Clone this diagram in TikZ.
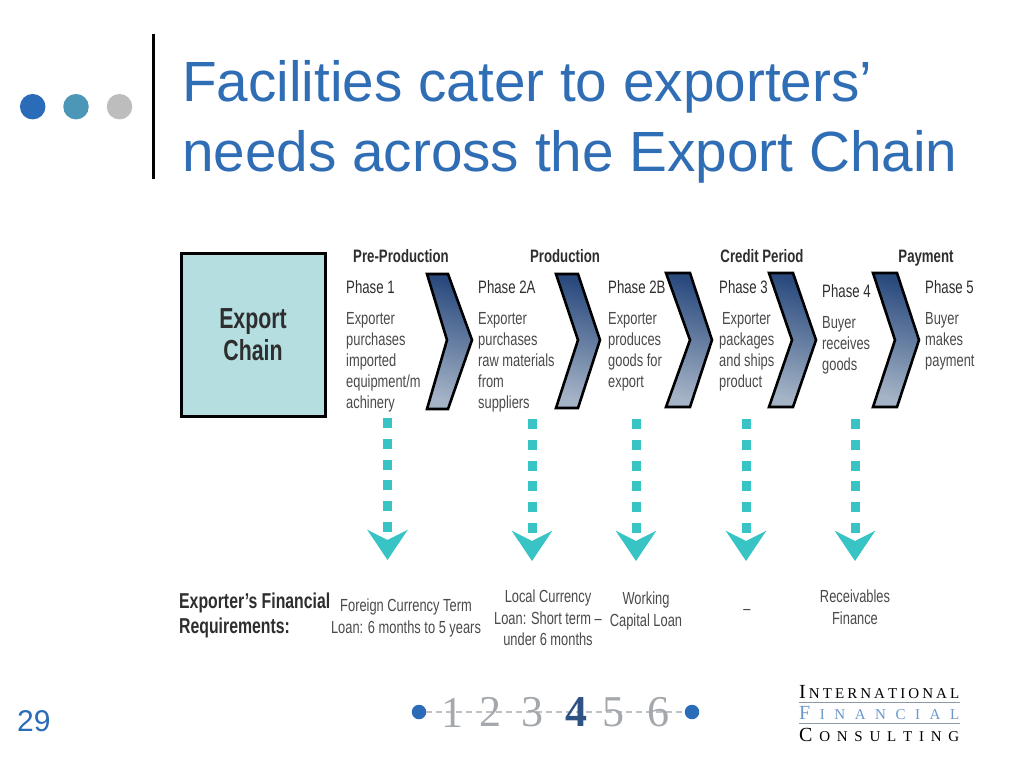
\documentclass[tikz,border=0pt]{standalone}
\usepackage{fontspec}
\setmainfont{Liberation Sans}
\newfontfamily\narrow[FakeStretch=0.735]{Liberation Sans}
\newfontfamily\logofont{Liberation Serif}
\usetikzlibrary{arrows.meta}
\definecolor{titleblue}{HTML}{2F6DB5}
\definecolor{dotblue}{HTML}{2B6CB8}
\definecolor{dotteal}{HTML}{4C97B8}
\definecolor{dotgray}{HTML}{BDBDBD}
\definecolor{boxfill}{HTML}{B5DEE0}
\definecolor{arrowteal}{HTML}{38C4C4}
\definecolor{bodygray}{HTML}{4A4A4A}
\definecolor{headdark}{HTML}{2E2E2E}
\definecolor{chevtop}{HTML}{2A4A7E}
\definecolor{chevmid}{HTML}{7189A8}
\definecolor{chevbot}{HTML}{A4B3C6}
\definecolor{numgray}{HTML}{A4A8AC}
\definecolor{numblue}{HTML}{2F5285}
\definecolor{logoline}{HTML}{8C9AAC}
\tikzset{
  titletext/.style={anchor=base west,inner sep=0,font=\fontsize{56.7}{56.7}\selectfont,text=titleblue},
  dotmark/.style={circle,minimum size=25.5pt,inner sep=0},
  head/.style={anchor=base,inner sep=0,font=\narrow\bfseries\fontsize{18}{18}\selectfont,text=headdark},
  phase/.style={anchor=base west,inner sep=0,font=\narrow\fontsize{18}{18}\selectfont,text=headdark},
  body/.style={anchor=north west,inner sep=0,align=left,font=\narrow\fontsize{17.5}{21}\selectfont,text=bodygray},
  req/.style={anchor=north,inner sep=0,align=center,font=\narrow\fontsize{17.5}{21.5}\selectfont,text=bodygray},
  chev/.style={draw=black,line width=2.6pt,line join=miter,top color=chevtop,middle color=chevmid,bottom color=chevbot,shading angle=-15},
  flow/.style={draw=arrowteal,line width=9pt,dash pattern=on 10pt off 10.8pt,
    -{Stealth[length=30pt,width=40pt,inset=10pt,fill=arrowteal,color=arrowteal]}},
  numeral/.style={inner sep=0,anchor=base,font=\logofont\fontsize{44}{44}\selectfont,text=numgray},
  endball/.style={circle,fill=dotblue,minimum size=14.5pt,inner sep=0},
  logoline/.style={inner sep=0,anchor=base west,font=\logofont\fontsize{15}{15}\selectfont,text=black},
}
\begin{document}
\begin{tikzpicture}[x=1pt,y=-1pt]
\useasboundingbox (0,0) rectangle (1024,768);
\fill[white] (0,0) rectangle (1024,768);
% header
\node[dotmark,fill=dotblue] (d1) at (32.7,106.7) {};
\node[dotmark,fill=dotteal] (d2) at (76,106.7) {};
\node[dotmark,fill=dotgray] (d3) at (119.5,106.7) {};
\draw[line width=2.7pt] (153.5,34.5) -- (153.5,179);
\node[titletext] (t1) at (182,101) {Facilities cater to exporters’};
\node[titletext] (t2) at (182,171) {needs across the Export Chain};
% box
\node[draw=black,line width=3pt,fill=boxfill,minimum width=144pt,minimum height=163pt,inner sep=0,
  align=center,font=\narrow\bfseries\fontsize{29}{32}\selectfont,text=headdark] (chain) at (253,334.5) {\raisebox{-1pt}{Export}\\[1pt]Chain};
% section headers
\node[head] (h1) at (401,262) {Pre-Production};
\node[head] (h2) at (565,262) {Production};
\node[head] (h3) at (762,262) {Credit Period};
\node[head] (h4) at (926,262) {Payment};
% chevrons
\path[chev] (427,274) -- (448,274) -- (472,340) -- (448,409) -- (427,409) -- (447,340) -- cycle;
\path[chev] (556,274) -- (578,274) -- (600,340) -- (578,408) -- (556,408) -- (578,340) -- cycle;
\path[chev] (666,273) -- (690,273) -- (712,340) -- (690,407) -- (666,407) -- (690,340) -- cycle;
\path[chev] (769,273) -- (793,273) -- (816,340) -- (793,407) -- (769,407) -- (792,340) -- cycle;
\path[chev] (873,273) -- (897,273) -- (919,340) -- (897,407) -- (873,407) -- (895,340) -- cycle;
% phases
\node[phase] (p1) at (346,293) {Phase 1};
\node[phase] (p2) at (478,293) {Phase 2A};
\node[phase] (p3) at (608,293) {Phase 2B};
\node[phase] (p4) at (719,293) {Phase 3};
\node[phase] (p5) at (822,297) {Phase 4};
\node[phase] (p6) at (925,293) {Phase 5};
\node[body] (b1) at (346,312) {Exporter\\purchases\\imported\\equipment/m\\achinery};
\node[body] (b2) at (478,312) {Exporter\\purchases\\raw materials\\from\\suppliers};
\node[body] (b3) at (608,312) {Exporter\\produces\\goods for\\export};
\node[body] (b4) at (719,312) {\,Exporter\\packages\\and ships\\product};
\node[body] (b5) at (822,316) {Buyer\\receives\\goods};
\node[body] (b6) at (925,312) {Buyer\\makes\\payment};
% requirements
\node[anchor=north west,inner sep=0,align=left,font=\narrow\bfseries\fontsize{21.5}{25}\selectfont,text=headdark] (r0) at (179,593) {Exporter’s Financial\\Requirements:};
\node[req] (r1) at (406,599) {Foreign Currency Term\\Loan: 6 months to 5 years};
\node[req] (r2) at (548,590) {Local Currency\\Loan: Short term –\\under 6 months};
\node[req] (r3) at (646,592) {Working\\Capital Loan};
\node[req] (r4) at (747,609) {–};
\node[req] (r5) at (855,590) {Receivables\\Finance};
% flows
\coordinate (f1) at (387.5,418); \coordinate (f2) at (532,419); \coordinate (f3) at (636,419);
\coordinate (f4) at (746,419); \coordinate (f5) at (855,419);
\draw[flow] (f1) -- (387.5,560);
\draw[flow] (f2) -- (532,561);
\draw[flow] (f3) -- (636,561);
\draw[flow] (f4) -- (746,561);
\draw[flow] (f5) -- (855,561);
% footer
\node[endball] (e1) at (419,712) {};
\node[endball] (e2) at (692,712) {};
\draw[numgray!70,line width=1.5pt,dash pattern=on 6pt off 4pt] (e1) -- (e2);
\node[numeral] (n1) at (452,727) {1};
\node[numeral] (n2) at (490,726) {2};
\node[numeral] (n3) at (532,726) {3};
\node[numeral,text=numblue,font=\logofont\bfseries\fontsize{44}{44}\selectfont] (n4) at (576,726) {4};
\node[numeral] (n5) at (613,726) {5};
\node[numeral] (n6) at (658,726) {6};
\node[inner sep=0,anchor=base west,font=\fontsize{30}{30}\selectfont,text=dotblue] (num) at (17,731) {29};
% logo
\node[logoline,text width=160pt] (l1) at (799,698) {\makebox[160pt][s]{{\fontsize{20}{20}\selectfont I}\hfill N\hfill T\hfill E\hfill R\hfill N\hfill A\hfill T\hfill I\hfill O\hfill N\hfill A\hfill L}};
\node[logoline,text width=160pt,text=dotblue!70] (l2) at (799,719) {\makebox[160pt][s]{{\fontsize{20}{20}\selectfont F}\hfill I\hfill N\hfill A\hfill N\hfill C\hfill I\hfill A\hfill L}};
\node[logoline,text width=160pt] (l3) at (799,741) {\makebox[160pt][s]{{\fontsize{20}{20}\selectfont C}\hfill O\hfill N\hfill S\hfill U\hfill L\hfill T\hfill I\hfill N\hfill G}};
\draw[draw=logoline,line width=.8pt] (799,702) -- (960,702);
\draw[draw=logoline,line width=.8pt] (799,723) -- (960,723);
\end{tikzpicture}
\end{document}
